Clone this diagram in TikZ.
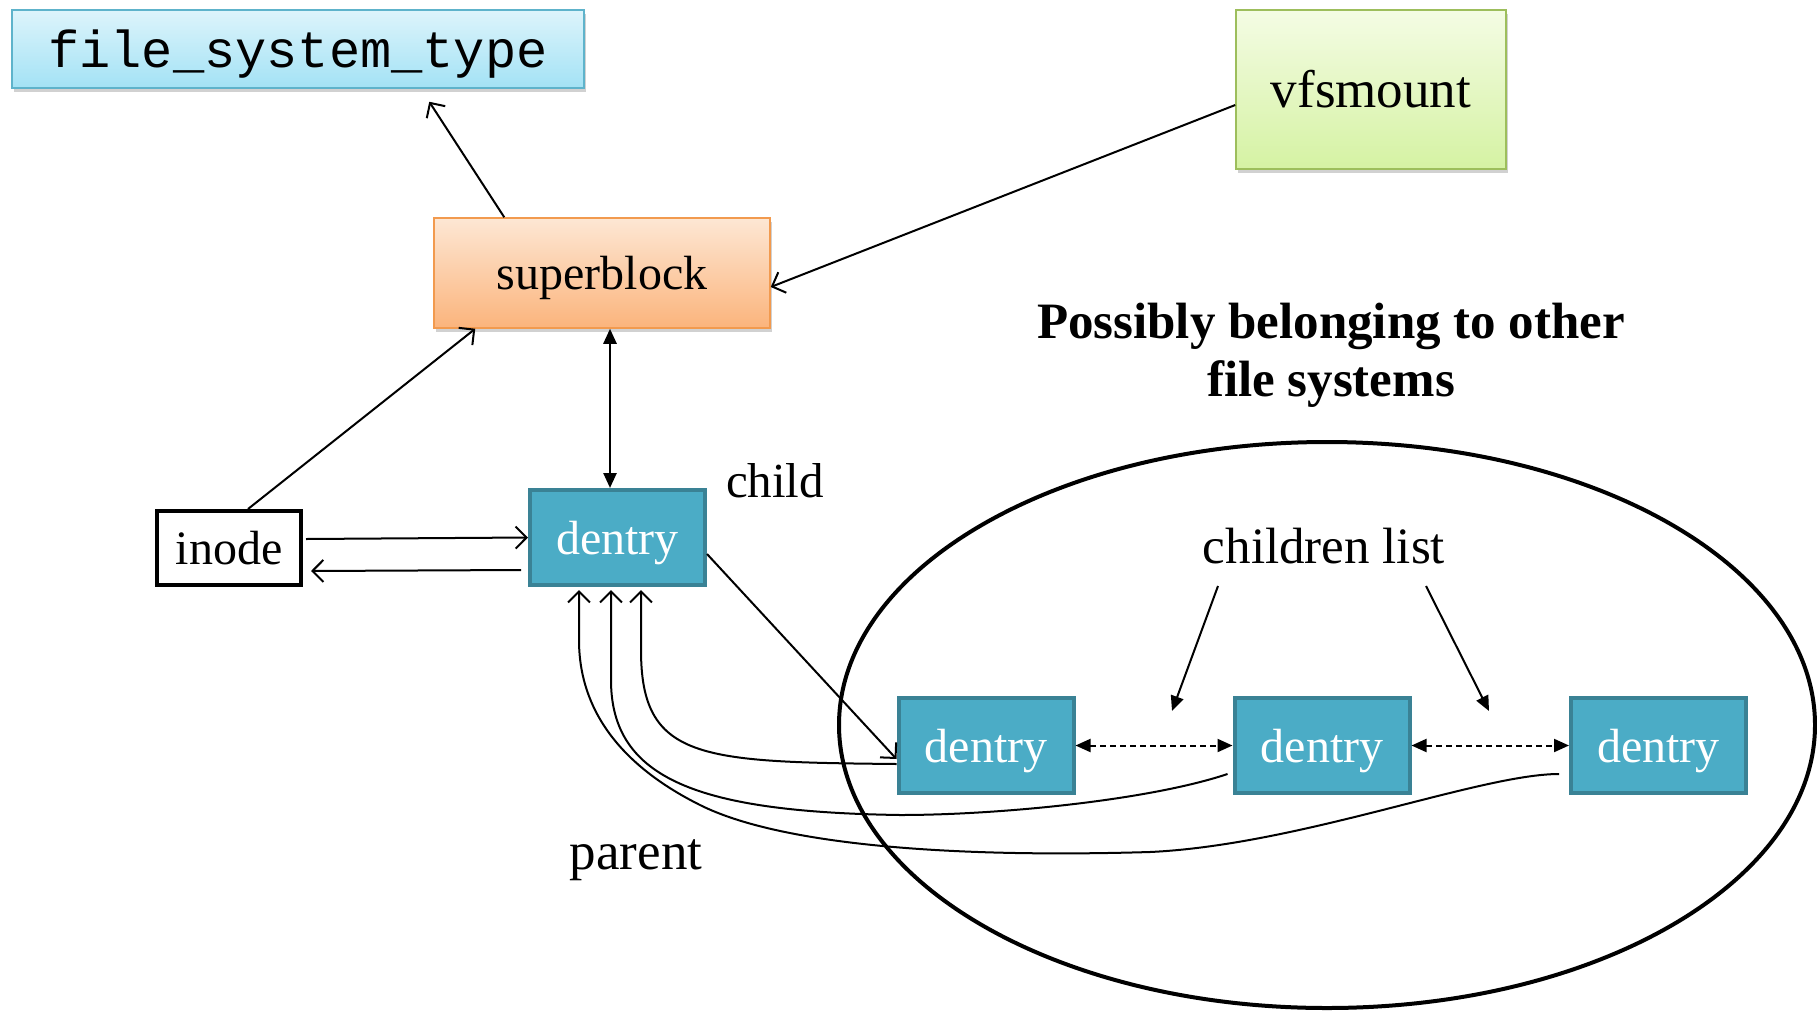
\documentclass[tikz,border=0pt]{standalone}
\usepackage{fontspec}
\setmainfont{Liberation Serif}
\setmonofont{Liberation Mono}
\usetikzlibrary{arrows.meta,shadows}
\definecolor{dfill}{HTML}{4BACC6}
\definecolor{dborder}{HTML}{3A8295}
\definecolor{fsttop}{HTML}{DDF4FB}
\definecolor{fstbot}{HTML}{A3E2F5}
\definecolor{fstline}{HTML}{5EB3CB}
\definecolor{vfstop}{HTML}{F4FCE4}
\definecolor{vfsbot}{HTML}{D5F2A3}
\definecolor{vfsline}{HTML}{9DBE5C}
\definecolor{sbtop}{HTML}{FDE7D4}
\definecolor{sbbot}{HTML}{FBB47C}
\definecolor{sbline}{HTML}{F29A4E}
\begin{document}
\begin{tikzpicture}[x=1pt,y=-1pt,
  shad/.style={drop shadow={shadow xshift=2pt,shadow yshift=-4pt,opacity=.3,fill=black!60}},
  grad/.style={inner sep=0pt,line width=1.5pt,shad},
  dentrybox/.style={draw=dborder,line width=4pt,fill=dfill,text=white,minimum width=175pt,minimum height=95pt,inner sep=0pt,text depth=0pt,font=\fontsize{48}{48}\selectfont},
  conn/.style={line width=2pt,-{Straight Barb[length=11pt,width=22pt,line width=2pt]}},
  fconn/.style={line width=2pt,-{Triangle[length=15pt,width=13pt]}},
  dconn/.style={line width=2pt,{Triangle[length=15pt,width=13pt]}-{Triangle[length=15pt,width=13pt]},dash pattern=on 6pt off 4pt},
  label/.style={inner sep=0pt}]
\useasboundingbox (0,0) rectangle (1817,1012);

% boxes
\node[grad,draw=fstline,top color=fsttop,bottom color=fstbot,minimum width=572pt,minimum height=78pt,text depth=0pt,font=\ttfamily\fontsize{52}{52}\selectfont] (fst) at (298,49) {file\_system\_type};
\node[grad,draw=vfsline,top color=vfstop,bottom color=vfsbot,minimum width=270pt,minimum height=159pt,font=\fontsize{53}{53}\selectfont] (vfs) at (1371,89.5) {vfsmount};
\node[grad,draw=sbline,top color=sbtop,bottom color=sbbot,minimum width=336pt,minimum height=110pt,text depth=0pt,font=\fontsize{48}{48}\selectfont] (sb) at (602,273) {superblock};
\node[draw,line width=4pt,fill=white,minimum width=144pt,minimum height=74pt,inner sep=0pt,font=\fontsize{48}{48}\selectfont] (inode) at (229,548) {inode};
\node[dentrybox] (dtop) at (617.5,537.5) {dentry};
\node[dentrybox] (d1) at (986,745.5) {dentry};
\node[dentrybox] (d2) at (1322,745.5) {dentry};
\node[dentrybox] (d3) at (1658.5,745.5) {dentry};

% labels
\node[label,font=\fontsize{49}{49}\selectfont] (child) at (775,481) {child};
\node[label,font=\fontsize{51}{51}\selectfont] (cl) at (1324,546) {children list};
\node[label,font=\fontsize{53}{53}\selectfont] (parent) at (636,860) {parent};
\node[label,align=center,anchor=base,font=\bfseries\fontsize{51}{58}\selectfont] (poss) at (1331,396) {Possibly belonging to other\\file systems};

% ellipse
\begin{scope}
\clip (0,0) rectangle (1817,1012);
\draw[line width=4pt] (1327,725) ellipse [x radius=488pt, y radius=283pt];
\end{scope}

% connectors
\draw[conn] ([xshift=71pt]sb.north west) -- ([xshift=418pt,yshift=-13pt]fst.south west);
\draw[conn] ([yshift=-15.5pt]vfs.west) -- ([yshift=-14pt]sb.east);
\draw[conn] ([xshift=19pt]inode.north) -- ([xshift=42pt]sb.south west);
\draw[line width=2.5pt,{Triangle[length=15pt,width=13pt]}-{Triangle[length=15pt,width=13pt]}] ([xshift=8pt]sb.south) -- ([xshift=8pt]sb.south |- dtop.north);
\draw[conn] ([xshift=3pt,yshift=9pt]inode.east) -- (dtop.west);
\draw[conn] ([xshift=-7pt,yshift=-32.5pt]dtop.west) -- ([xshift=8pt,yshift=-23pt]inode.east);
\draw[conn] ([yshift=-16.5pt]dtop.east) -- ([yshift=-13.5pt]d1.west);

% parent curves
\draw[conn] ([yshift=-18.5pt]d1.west) .. controls (700,762) and (641,760) .. (641,650) -- ([xshift=23.5pt,yshift=-3pt]dtop.south);
\draw[conn] ([xshift=-5pt,yshift=-28.5pt]d2.west) .. controls (1150,800) and (1000,815) .. (900,815) .. controls (700,812) and (611,780) .. (611,680) -- ([xshift=-6.5pt,yshift=-3pt]dtop.south);
\draw[conn] ([xshift=-10pt,yshift=-28.5pt]d3.west) .. controls (1480,774) and (1300,845) .. (1150,852) .. controls (950,858) and (780,845) .. (700,805) .. controls (600,755) and (579,690) .. (579,640) -- ([xshift=-38.5pt,yshift=-3pt]dtop.south);

% sibling list
\draw[dconn] (d1.east) -- (d2.west);
\draw[dconn] (d2.east) -- (d3.west);

% children list pointers
\coordinate (cla) at (1218,586);
\coordinate (clb) at (1426,586);
\coordinate (clat) at (1172,711);
\coordinate (clbt) at (1489,711);
\draw[fconn] (cla) -- (clat);
\draw[fconn] (clb) -- (clbt);
\end{tikzpicture}
\end{document}
